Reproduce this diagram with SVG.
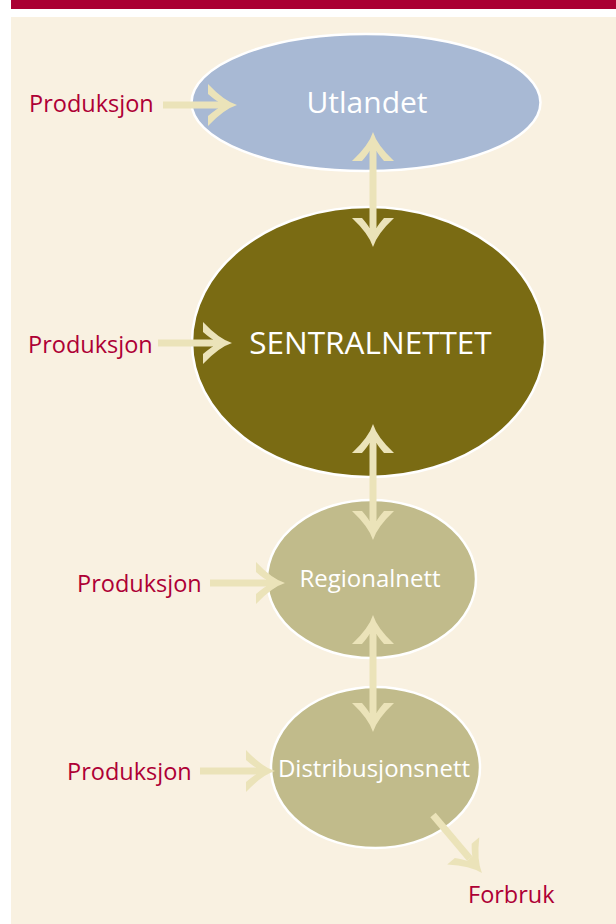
<svg xmlns="http://www.w3.org/2000/svg" width="616" height="924" viewBox="0 0 616 924">
  <style>
    .lbl { font-family: "Open Sans", "Noto Sans", "Liberation Sans", sans-serif; fill: #AE0035; font-size: 23.5px; }
    .in { font-family: "Open Sans", "Noto Sans", "Liberation Sans", sans-serif; fill: #FFFFFF; text-anchor: middle; }
    .node { stroke: #FFFFFF; stroke-width: 2.5; }
    .arr { stroke: #EBE3B9; stroke-width: 7; fill: none; marker-start: url(#ah); marker-end: url(#ah); }
    .arr1 { stroke: #EBE3B9; stroke-width: 7; fill: none; marker-end: url(#ah); }
  </style>
  <defs>
    <marker id="ah" markerUnits="userSpaceOnUse" orient="auto-start-reverse" refX="0" refY="0" markerWidth="60" markerHeight="60" viewBox="-30 -30 60 60" overflow="visible">
      <path d="M19,0 Q6,-4 -10,-21 L-10,-11 Q-3,-5 0,-3.5 L0,3.5 Q-3,5 -10,11 L-10,21 Q6,4 19,0 Z" fill="#EBE3B9"/>
    </marker>
  </defs>

  <rect x="0" y="0" width="616" height="924" fill="#FFFFFF"/>
  <rect x="11" y="0" width="605" height="9" fill="#AA0033"/>
  <rect x="11" y="17" width="605" height="907" fill="#F9F1E1"/>

  <g id="utlandet">
    <ellipse class="node" cx="366" cy="102.5" rx="174.5" ry="68.5" fill="#A8B9D4"/>
    <text class="in" x="367" y="113" font-size="30">Utlandet</text>
  </g>
  <g id="sentralnettet">
    <ellipse class="node" cx="368.5" cy="342" rx="176.5" ry="135" fill="#7A6B13"/>
    <text class="in" x="370.5" y="354" font-size="31.5">SENTRALNETTET</text>
  </g>
  <g id="regionalnett">
    <ellipse class="node" cx="371.5" cy="579" rx="104.5" ry="79" fill="#C1BB8B"/>
    <text class="in" x="370" y="587" font-size="24">Regionalnett</text>
  </g>
  <g id="distribusjonsnett">
    <ellipse class="node" cx="375.5" cy="767.5" rx="104.5" ry="80.5" fill="#C1BB8B"/>
    <text class="in" x="374" y="777" font-size="24">Distribusjonsnett</text>
  </g>

  <g id="labels">
    <text class="lbl" x="29" y="112">Produksjon</text>
    <text class="lbl" x="28" y="353">Produksjon</text>
    <text class="lbl" x="77" y="592">Produksjon</text>
    <text class="lbl" x="67" y="780">Produksjon</text>
    <text class="lbl" x="468" y="903">Forbruk</text>
  </g>

  <g id="connectors">
    <line class="arr" x1="373" y1="151" x2="373" y2="228"/>
    <line class="arr" x1="373" y1="443" x2="373" y2="521"/>
    <line class="arr" x1="373" y1="634" x2="373" y2="713"/>
    <line class="arr1" x1="163" y1="105" x2="218" y2="105"/>
    <line class="arr1" x1="158" y1="343" x2="213" y2="343"/>
    <line class="arr1" x1="210" y1="583" x2="266" y2="583"/>
    <line class="arr1" x1="200" y1="771" x2="256" y2="771"/>
    <line class="arr1" x1="433" y1="815" x2="469.7" y2="858.5"/>
  </g>
</svg>
